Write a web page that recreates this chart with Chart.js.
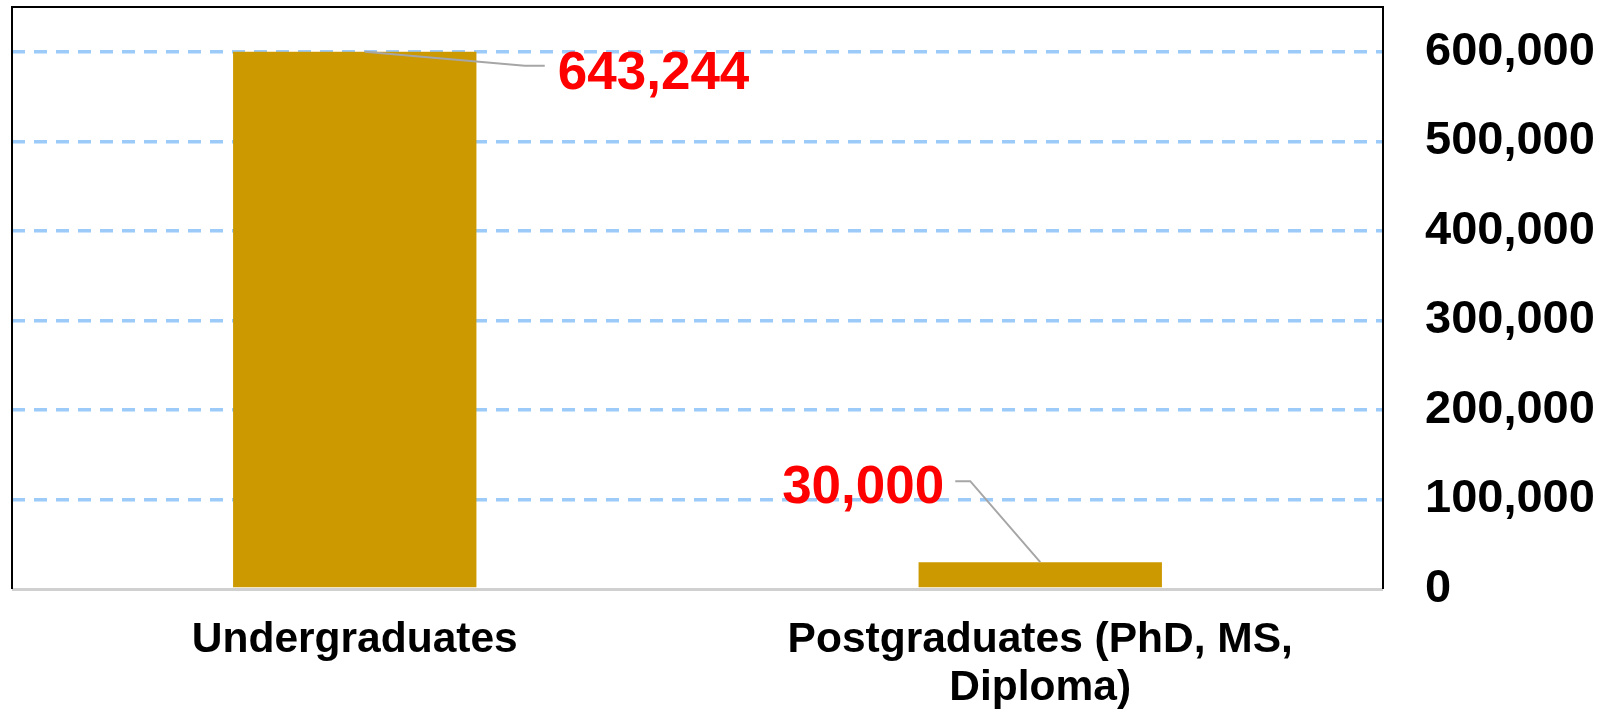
<!DOCTYPE html>
<html>
<head>
<meta charset="utf-8">
<script src="https://cdn.jsdelivr.net/npm/chart.js@4/dist/chart.umd.min.js"></script>
<style>
  body { margin: 0; background: #fff; }
  #wrap { width: 1618px; height: 711px; }
</style>
</head>
<body>
<div id="wrap"><canvas id="myCanvas" width="1618" height="711"></canvas></div>
<script>
// data
const categories = [["Undergraduates"], ["Postgraduates (PhD, MS,", "Diploma)"]];
const barValues = [600000, 30000];      // bar heights as drawn
const labelValues = [643244, 30000];    // numbers printed next to the bars
const yTicks = [0, 100000, 200000, 300000, 400000, 500000, 600000];
const yMax = 650000;

const FONT = "'Liberation Sans', Arial, sans-serif";

// where each red label sits relative to the top of its bar
const labelPlace = [
    { dx: 203, dy: 23, align: "left", line: [[10, 0], [170, 14], [190, 14]] },
    { dx: -96, dy: -74, align: "right", line: [[0, 0], [-70, -81], [-85, -81]] }
];

const framePlugin = {
    id: "frame",
    afterDraw(chart) {
        const ctx = chart.ctx;
        const a = chart.chartArea;
        ctx.save();
        // bottom axis line
        ctx.strokeStyle = "#d0d0d0";
        ctx.lineWidth = 3;
        ctx.beginPath();
        ctx.moveTo(a.left, a.bottom + 0.5);
        ctx.lineTo(a.right, a.bottom + 0.5);
        ctx.stroke();
        // plot frame
        ctx.strokeStyle = "#000";
        ctx.lineWidth = 2;
        ctx.beginPath();
        ctx.moveTo(a.left, a.bottom);
        ctx.lineTo(a.left, a.top);
        ctx.lineTo(a.right, a.top);
        ctx.lineTo(a.right, a.bottom);
        ctx.stroke();

        // leader lines and red value labels
        const meta = chart.getDatasetMeta(0);
        meta.data.forEach((bar, i) => {
            const p = labelPlace[i];
            ctx.strokeStyle = "#a6a6a6";
            ctx.lineWidth = 2;
            ctx.beginPath();
            p.line.forEach((pt, k) => {
                const x = bar.x + pt[0], y = bar.y + pt[1];
                if (k === 0) ctx.moveTo(x, y); else ctx.lineTo(x, y);
            });
            ctx.stroke();
            ctx.fillStyle = "#ff0000";
            ctx.font = "bold 53px " + FONT;
            ctx.textAlign = p.align;
            ctx.textBaseline = "middle";
            ctx.fillText(labelValues[i].toLocaleString("en-US"), bar.x + p.dx, bar.y + p.dy);
        });
        ctx.restore();
    }
};

const myCanvas = document.getElementById("myCanvas");

const gChart = new Chart(myCanvas, {
    type: "bar",
    data: {
        labels: categories,
        datasets: [{
            data: barValues,
            backgroundColor: "#cc9900",
            categoryPercentage: 1,
            barPercentage: 0.355
        }]
    },
    options: {
        responsive: false,
        animation: false,
        layout: { padding: { left: 12, top: 7, right: 0, bottom: 0 } },
        plugins: {
            legend: { display: false },
            tooltip: { enabled: false }
        },
        scales: {
            x: {
                afterFit(scale) {
                    scale.height = 122;
                    scale.paddingLeft = 0;
                    scale.paddingRight = 0;
                },
                grid: { display: false, drawTicks: false },
                border: { display: false },
                ticks: {
                    color: "#000",
                    padding: 27,
                    maxRotation: 0,
                    autoSkip: false,
                    font: { family: FONT, size: 42.5, weight: "bold", lineHeight: 1.13 }
                }
            },
            y: {
                position: "right",
                min: 0,
                max: yMax,
                afterBuildTicks(scale) {
                    scale.ticks = yTicks.map(v => ({ value: v }));
                },
                afterFit(scale) {
                    scale.width = 235;
                    scale.paddingTop = 0;
                    scale.paddingBottom = 0;
                },
                grid: {
                    color: c => (c.tick && c.tick.value === 0) ? "rgba(0,0,0,0)" : "#9ccbfa",
                    lineWidth: 3.5,
                    drawTicks: false
                },
                border: { display: false, dash: [13, 9] },
                ticks: {
                    color: "#000",
                    padding: 42,
                    font: { family: FONT, size: 47, weight: "bold" },
                    callback: v => v.toLocaleString("en-US")
                }
            }
        }
    },
    plugins: [framePlugin]
});
</script>
</body>
</html>
